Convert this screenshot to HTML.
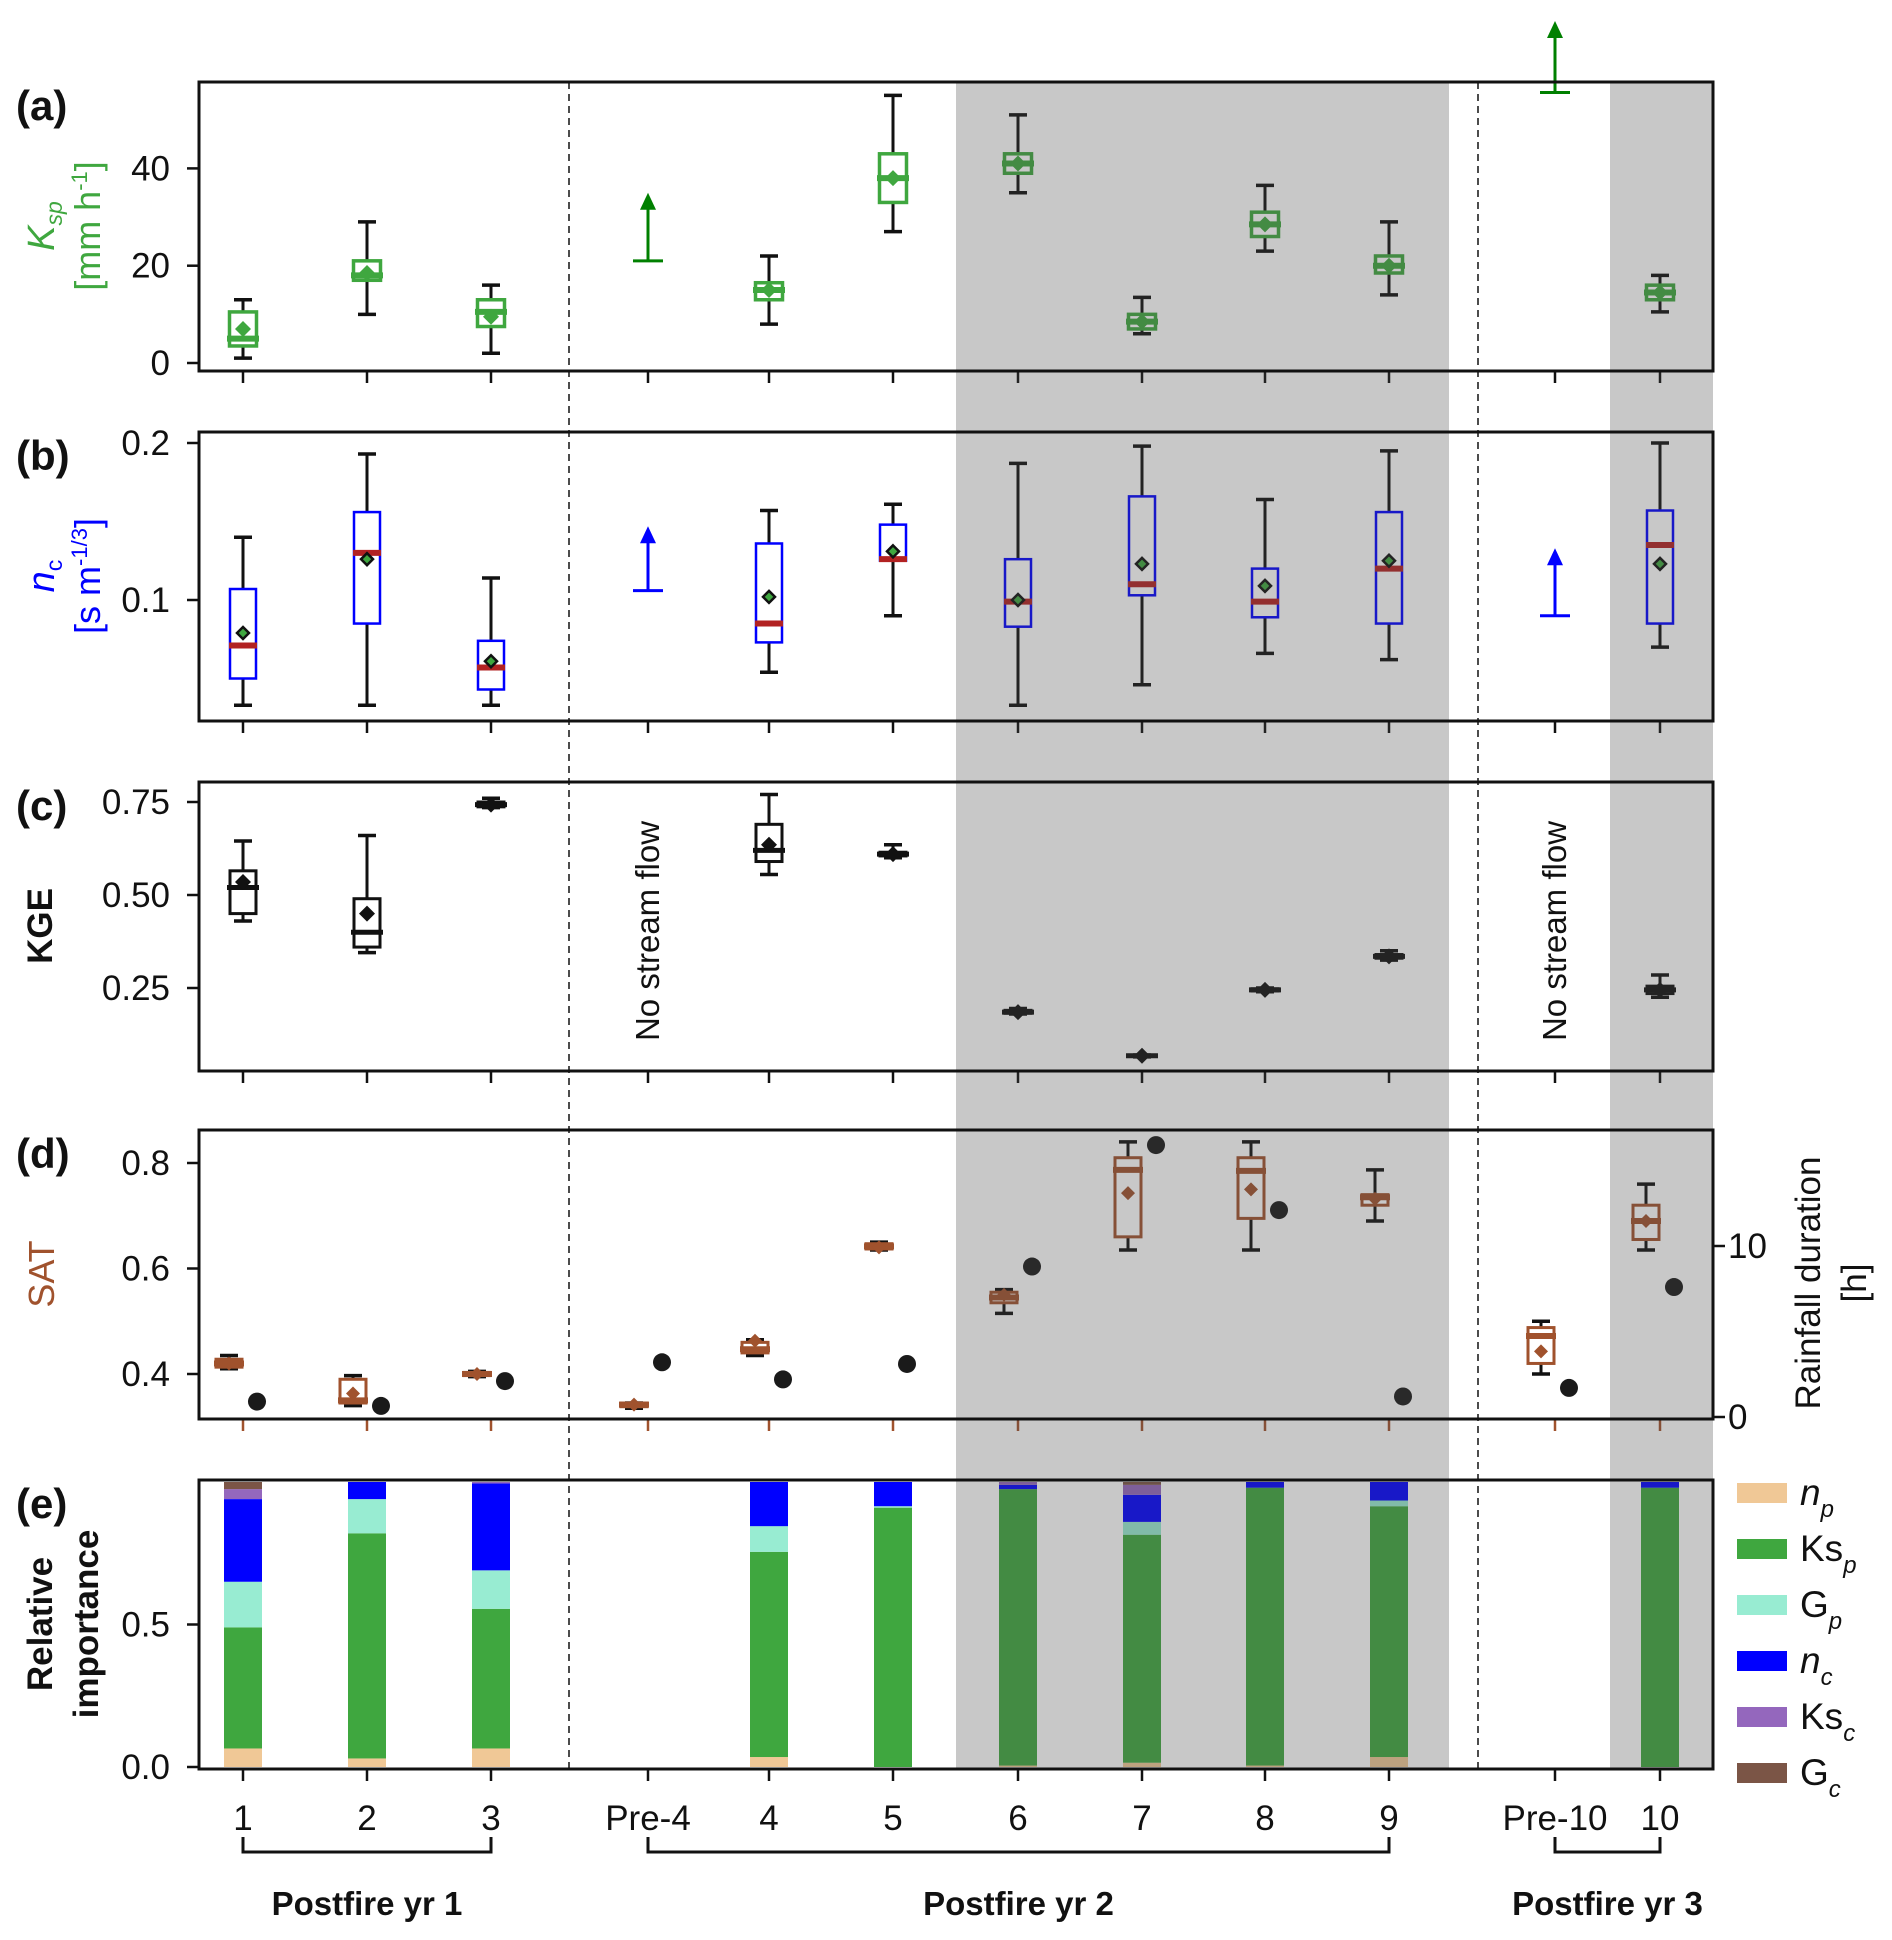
<!DOCTYPE html>
<html><head><meta charset="utf-8"><style>
html,body{margin:0;padding:0;background:#fff;}
svg{display:block;font-family:"Liberation Sans",sans-serif;}
</style></head><body>
<svg id="fig" width="1892" height="1940" viewBox="0 0 1892 1940" xmlns="http://www.w3.org/2000/svg"></svg>
<script>
// ---------- data ----------
const categories = ['1','2','3','Pre-4','4','5','6','7','8','9','Pre-10','10'];
// panel a: Ksp [mm/h]
const aLo  = [1,10,2,null,8,27,35,6,23,14,null,10.5];
const aQ1  = [3.5,17,7.5,null,13,33,39,7,26,18.5,null,13];
const aMed = [5,18,10.5,null,15,38,41,8.5,28.5,20,null,14.5];
const aQ3  = [10.5,21,13,null,16.5,43,43,10,31,22,null,16];
const aHi  = [13,29,16,null,22,55,51,13.5,36.5,29,null,18];
const aMean= [7,18.5,9.5,null,15,38,41,8.5,28.5,20,null,14.5];
const aArrowBase = [null,null,null,21,null,null,null,null,null,null,55.6,null];
const aArrowTip  = [null,null,null,35,null,null,null,null,null,null,70.3,null];
// panel b: nc
const bLo  = [0.033,0.033,0.033,null,0.054,0.09,0.033,0.046,0.066,0.062,null,0.07];
const bQ1  = [0.05,0.085,0.043,null,0.073,0.125,0.083,0.103,0.089,0.085,null,0.085];
const bMed = [0.071,0.13,0.057,null,0.085,0.126,0.099,0.11,0.099,0.12,null,0.135];
const bQ3  = [0.107,0.156,0.074,null,0.136,0.148,0.126,0.166,0.12,0.156,null,0.157];
const bHi  = [0.14,0.193,0.114,null,0.157,0.161,0.187,0.198,0.164,0.195,null,0.2];
const bMean= [0.079,0.126,0.061,null,0.102,0.131,0.1,0.123,0.109,0.125,null,0.123];
const bArrowBase = [null,null,null,0.106,null,null,null,null,null,null,0.09,null];
const bArrowTip  = [null,null,null,0.147,null,null,null,null,null,null,0.133,null];
// panel c: KGE
const cLo  = [0.43,0.345,0.735,null,0.555,0.6,0.18,0.065,0.24,0.325,null,0.225];
const cQ1  = [0.45,0.36,0.737,null,0.59,0.605,0.182,0.066,0.242,0.33,null,0.235];
const cMed = [0.52,0.40,0.743,null,0.62,0.61,0.185,0.068,0.245,0.335,null,0.245];
const cQ3  = [0.565,0.49,0.75,null,0.69,0.615,0.19,0.07,0.248,0.34,null,0.255];
const cHi  = [0.645,0.66,0.76,null,0.77,0.635,0.195,0.07,0.25,0.35,null,0.285];
const cMean= [0.535,0.45,0.743,null,0.635,0.61,0.185,0.068,0.245,0.335,null,0.245];
// panel d: SAT + rainfall duration
const dLo  = [0.41,0.34,0.395,0.335,0.435,0.635,0.515,0.635,0.635,0.69,0.40,0.635];
const dQ1  = [0.413,0.345,0.397,0.338,0.44,0.637,0.535,0.66,0.695,0.72,0.42,0.655];
const dMed = [0.42,0.35,0.40,0.342,0.447,0.642,0.545,0.787,0.785,0.735,0.472,0.69];
const dQ3  = [0.428,0.39,0.403,0.345,0.46,0.647,0.555,0.81,0.81,0.74,0.488,0.72];
const dHi  = [0.435,0.397,0.405,0.345,0.465,0.65,0.56,0.84,0.84,0.787,0.50,0.76];
const dMean= [0.42,0.363,0.40,0.342,0.463,0.64,0.55,0.743,0.75,0.732,0.443,0.69];
const rainHours = [0.9,0.65,2.1,3.2,2.2,3.1,8.8,15.9,12.1,1.2,1.7,7.6];
// panel e: relative importance (stacked)
const eNp  = [0.065,0.03,0.065,null,0.035,0.0,0.005,0.015,0.005,0.035,null,0.0];
const eKsp = [0.425,0.79,0.49,null,0.72,0.91,0.97,0.80,0.975,0.88,null,0.98];
const eGp  = [0.16,0.12,0.135,null,0.09,0.005,0.0,0.045,0.0,0.02,null,0.0];
const eNc  = [0.29,0.06,0.305,null,0.155,0.085,0.015,0.095,0.02,0.065,null,0.02];
const eKsc = [0.035,0.0,0.005,null,0.0,0.0,0.01,0.035,0.0,0.0,null,0.0];
const eGc  = [0.025,0.0,0.0,null,0.0,0.0,0.0,0.01,0.0,0.0,null,0.0];
const eTicks = [0.0,0.5];
const aTicks = [0,20,40];
const bTicks = [0.1,0.2];
const cTicks = [0.25,0.50,0.75];
const dTicks = [0.4,0.6,0.8];
const rTicks = [0,10];

// ---------- layout ----------
const NS='http://www.w3.org/2000/svg';
const svg=document.getElementById('fig');
const L=199,R=1713,PH=289;
const tops=[82,432,782,1130,1480];
const catPx=[243,367,491,648,769,893,1018,1142,1265,1389,1555,1660];
function x(i){return catPx[i];}
const ya=v=>363-v*4.865;
const yb=v=>600-(v-0.1)*1570;
const yc=v=>802-(v-0.75)*372;
const yd=v=>1374-(v-0.4)*527.5;
const yr=h=>1417-h*17.1;
const ye=v=>1767-v*285;

function el(tag,attrs,parent){const e=document.createElementNS(NS,tag);for(const k in attrs)e.setAttribute(k,attrs[k]);(parent||svg).appendChild(e);return e;}
function line(x1,y1,x2,y2,st,sw,parent,extra){const e=el('line',Object.assign({x1,y1,x2,y2,stroke:st,'stroke-width':sw},extra||{}),parent);return e;}
function txt(s,xx,yy,attrs,parent){const e=el('text',Object.assign({x:xx,y:yy},attrs),parent);e.textContent=s;return e;}

const COL={green:'#3fa73f',blue:'#0000ff',red:'#b22222',brown:'#a0522d',np:'#f0c896',ksp:'#3fa73f',gp:'#98ecd2',nc:'#0000ff',ksc:'#9467bd',gc:'#7b5546'};
const FS=35;

function boxplot(g,cx,yf,lo,q1,med,q3,hi,mean,o){
  const w=o.w, cw=18;
  const wl1=line(cx,yf(hi),cx,yf(q3),'#111',3,g);
  
  
  const wl2=line(cx,yf(q1),cx,yf(lo),'#111',3,g);
  
  
  const c1=line(cx-cw/2,yf(hi),cx+cw/2,yf(hi),'#111',3.5,g);
  
  
  const c2=line(cx-cw/2,yf(lo),cx+cw/2,yf(lo),'#111',3.5,g);
  
  
  const b=el('rect',{x:cx-w/2,y:yf(q3),width:w,height:Math.max(1,yf(q1)-yf(q3)),fill:'#fff',stroke:o.box,'stroke-width':o.bw},g);
  
  
  const m=line(cx-o.mw/2,yf(med),cx+o.mw/2,yf(med),o.med,o.msw,g);
  
  
  const s=o.ds, my=yf(mean);
  const d=el('polygon',{points:`${cx},${my-s} ${cx+s},${my} ${cx},${my+s} ${cx-s},${my}`,fill:o.mf,stroke:o.ms,'stroke-width':o.msw2||0},g);
  
  
}
function arrow(g,cx,yf,base,tip,col){
  const yb0=yf(base), yt=yf(tip);
  const a=line(cx,yb0,cx,yt+16,col,3,g);
  
  
  const b=line(cx-15,yb0,cx+15,yb0,col,3,g);
  
  
  const h=el('polygon',{points:`${cx},${yt} ${cx+8},${yt+17} ${cx-8},${yt+17}`,fill:col},g);
  
  
}

function panel(idx,name,ticks,yf,fmt,tickColor){
  const g=el('g',{});
  
  
  ticks.forEach(t=>{
    const tl=line(187,yf(t),L,yf(t),'#111',2.5,g);
    
    
    const tt=txt(fmt(t),170,yf(t)+12,{'font-size':FS,'text-anchor':'end',fill:'#111'},g);
    
    
  });
  categories.forEach((c,i)=>{
    const tk=line(x(i),tops[idx]+PH,x(i),tops[idx]+PH+12,tickColor||'#111',2.5,g);
    
    
  });
  return g;
}
const gA=panel(0,'panel-a-ksp',aTicks,ya,t=>String(t));
const gB=panel(1,'panel-b-nc',bTicks,yb,t=>t.toFixed(1));
const gC=panel(2,'panel-c-kge',cTicks,yc,t=>t.toFixed(2));
const gD=panel(3,'panel-d-sat',dTicks,yd,t=>t.toFixed(1),COL.brown);
const gE=panel(4,'panel-e-importance',eTicks,ye,t=>t.toFixed(1));

categories.forEach((c,i)=>{
  if(aMed[i]!=null) boxplot(gA,x(i),ya,aLo[i],aQ1[i],aMed[i],aQ3[i],aHi[i],aMean[i],{w:27,box:COL.green,bw:3.5,med:COL.green,mw:32,msw:6,mf:COL.green,ms:'none',ds:8});
  if(aArrowBase[i]!=null) arrow(gA,x(i),ya,aArrowBase[i],aArrowTip[i],'#008000');
});
categories.forEach((c,i)=>{
  if(bMed[i]!=null) boxplot(gB,x(i),yb,bLo[i],bQ1[i],bMed[i],bQ3[i],bHi[i],bMean[i],{w:26,box:COL.blue,bw:2.5,med:COL.red,mw:28,msw:6,mf:'#3fa73f',ms:'#111',msw2:2.5,ds:6});
  if(bArrowBase[i]!=null) arrow(gB,x(i),yb,bArrowBase[i],bArrowTip[i],'#0000ff');
});
categories.forEach((c,i)=>{
  if(cMed[i]!=null) boxplot(gC,x(i),yc,cLo[i],cQ1[i],cMed[i],cQ3[i],cHi[i],cMean[i],{w:26,box:'#111',bw:3,med:'#111',mw:32,msw:5,mf:'#111',ms:'none',ds:8});
});
['Pre-4','Pre-10'].forEach(k=>{
  const i=categories.indexOf(k);
  const t=txt('No stream flow',0,0,{'font-size':33,'text-anchor':'middle',fill:'#111',transform:`translate(${x(i)+11},931) rotate(-90)`},gC);
  
  
});
categories.forEach((c,i)=>{
  boxplot(gD,x(i)-14,yd,dLo[i],dQ1[i],dMed[i],dQ3[i],dHi[i],dMean[i],{w:26,box:COL.brown,bw:3,med:COL.brown,mw:30,msw:6,mf:COL.brown,ms:'none',ds:7});
  const dot=el('circle',{cx:x(i)+14,cy:yr(rainHours[i]),r:9,fill:'#1a1a1a'},gD);
  
  
});
rTicks.forEach(t=>{
  const tl=line(R,yr(t),R+12,yr(t),'#111',2.5,gD);
  
  
  const tt=txt(String(t),1728,yr(t)+12,{'font-size':FS,fill:'#111'},gD);
  
  
});
const stacks=[['np',eNp],['ksp',eKsp],['gp',eGp],['nc',eNc],['ksc',eKsc],['gc',eGc]];
categories.forEach((c,i)=>{
  if(eNp[i]==null) return;
  let acc=0;
  stacks.forEach(([k,arr])=>{
    const v=arr[i]; if(!v) {return;}
    const r=el('rect',{x:x(i)-19,y:ye(acc+v),width:38,height:ye(acc)-ye(acc+v),fill:COL[k]},gE);
    
    
    acc+=v;
  });
});
categories.forEach((c,i)=>{
  const t=txt(c,x(i),1830,{'font-size':FS,'text-anchor':'middle',fill:'#111'},gE);
  
  
});

[[956,1449],[1610,1713]].forEach(([a,b])=>{
  const r=el('rect',{x:a,y:82,width:b-a,height:1769-82,fill:'#4c4c4c','fill-opacity':0.31});
  
  
});
[569,1478].forEach(xx=>{
  const d=line(xx,82,xx,1769,'#111',1.5,svg,{'stroke-dasharray':'7,5'});
  
  
});
tops.forEach((t,i)=>{
  const f=el('rect',{x:L,y:t,width:R-L,height:PH,fill:'none',stroke:'#111','stroke-width':3});
  
  
});
tops.forEach((t,i)=>{
  const p=txt('('+'abcde'[i]+')',16,t+38,{'font-size':42,'font-weight':'bold',fill:'#111'});
  
  
});
function rot(html,cx,cy,attrs,name){
  const t=el('text',Object.assign({x:0,y:0,'text-anchor':'middle',transform:`translate(${cx},${cy}) rotate(-90)`},attrs));
  t.innerHTML=html;
  
  
  return t;
}
rot('<tspan font-style="italic">K</tspan><tspan font-size="23" font-style="italic" dy="8">sp</tspan>',54,226,{'font-size':38,fill:COL.green},'y-axis-title-ksp');
rot('[mm h<tspan font-size="22" dy="-13">-1</tspan><tspan dy="13">]</tspan>',100,226,{'font-size':36,fill:COL.green},'y-axis-title-ksp-units');
rot('<tspan font-style="italic">n</tspan><tspan font-size="23" dy="8">c</tspan>',54,576,{'font-size':38,fill:COL.blue},'y-axis-title-nc');
rot('[s m<tspan font-size="22" dy="-13">-1/3</tspan><tspan dy="13">]</tspan>',100,576,{'font-size':36,fill:COL.blue},'y-axis-title-nc-units');
rot('KGE',52,926,{'font-size':35,'font-weight':'bold',fill:'#111'},'y-axis-title-kge');
rot('SAT',54,1274,{'font-size':36,fill:COL.brown},'y-axis-title-sat');
rot('Relative',52,1624,{'font-size':35,'font-weight':'bold',fill:'#111'},'y-axis-title-importance-1');
rot('importance',98,1624,{'font-size':35,'font-weight':'bold',fill:'#111'},'y-axis-title-importance-2');
rot('Rainfall duration',1820,1283,{'font-size':35,fill:'#111'},'right-y-axis-title');
rot('[h]',1866,1283,{'font-size':35,fill:'#111'},'right-y-axis-units');

const legItems=[['np','<tspan font-style="italic">n</tspan><tspan font-size="24" font-style="italic" dy="12">p</tspan>'],
 ['ksp','Ks<tspan font-size="24" font-style="italic" dy="12">p</tspan>'],
 ['gp','G<tspan font-size="24" font-style="italic" dy="12">p</tspan>'],
 ['nc','<tspan font-style="italic">n</tspan><tspan font-size="24" font-style="italic" dy="12">c</tspan>'],
 ['ksc','Ks<tspan font-size="24" font-style="italic" dy="12">c</tspan>'],
 ['gc','G<tspan font-size="24" font-style="italic" dy="12">c</tspan>']];
legItems.forEach(([k,h],i)=>{
  const cy=1493+i*56;
  const g=el('g',{});
  
  
  el('rect',{x:1737,y:cy-10,width:50,height:20,fill:COL[k]},g);
  const t=el('text',{x:1800,y:cy+12,'font-size':37,fill:'#111'},g);
  t.innerHTML=h;
});

[[0,2,'Postfire yr 1'],[3,9,'Postfire yr 2'],[10,11,'Postfire yr 3']].forEach(([a,b,lab])=>{
  const g=el('g',{});
  
  
  el('polyline',{points:`${x(a)},1837 ${x(a)},1852 ${x(b)},1852 ${x(b)},1837`,fill:'none',stroke:'#111','stroke-width':3},g);
  const t=txt(lab,(x(a)+x(b))/2,1915,{'font-size':33,'font-weight':'600','text-anchor':'middle',fill:'#111'},g);
  
  
});
</script>
</body></html>
